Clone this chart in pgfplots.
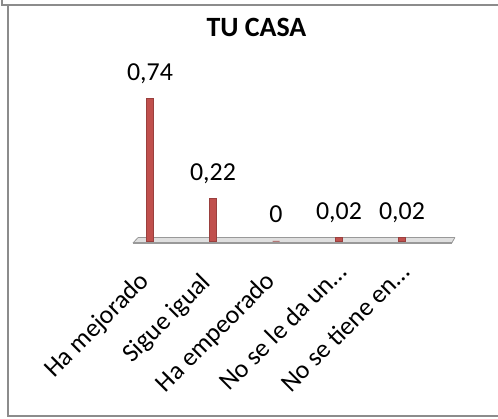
\documentclass[border=0pt]{standalone}
\usepackage{pgfplots}
\pgfplotsset{compat=1.18}
\usepackage{fontspec}
\setmainfont{Carlito}
\definecolor{barred}{HTML}{C0504D}
\definecolor{framegray}{HTML}{8C8C8C}
\begin{document}
\begin{tikzpicture}
\useasboundingbox (0bp,0bp) rectangle (498bp,419bp);
\draw[framegray, line width=2bp] (2bp,419bp) -- (2bp,413.5bp) -- (498bp,413.5bp);
\draw[framegray, line width=2bp] (8bp,413.5bp) -- (8bp,2.5bp) -- (498bp,2.5bp);
\node[font=\fontsize{28}{32}\selectfont\bfseries, anchor=base, inner sep=0pt] at (256.5bp,382.3bp) {TU CASA};
\begin{axis}[
 at={(118.5bp,178bp)}, anchor=south west, scale only axis, width=315bp, height=193bp,
 xmin=-0.5, xmax=4.5, ymin=0, ymax=1, clip=false,
 axis x line=bottom, axis y line=none, x axis line style={draw=none}, major tick length=0pt,
 ytick=\empty, xtick={0,1,2,3,4},
 xticklabels={Ha mejorado\rule{12bp}{0pt}, Sigue igual\rule{14bp}{0pt}, Ha empeorado\rule{12bp}{0pt}, No se le da un…, No se tiene en…},
 xticklabel style={xshift=-4bp, yshift=-20bp, rotate=45, anchor=north east, font=\fontsize{26}{30}\selectfont, inner sep=0pt},
 ybar, bar width=7bp,
 nodes near coords,
 nodes near coords style={font=\fontsize{26}{30}\selectfont, anchor=base, yshift=18bp, inner sep=0pt, text=black},
 /pgf/number format/.cd, use comma, fixed, precision=2, assume math mode=true,
]
\fill[gray!25] (axis cs:-0.27,-0.0104) -- (axis cs:-0.19,0.018) -- (axis cs:4.84,0.018) -- (axis cs:4.79,-0.0104) -- cycle;
\draw[gray!80, line width=1bp] (axis cs:-0.19,0.018) -- (axis cs:4.84,0.018);
\draw[gray!80, line width=1.4bp] (axis cs:-0.27,-0.0104) -- (axis cs:4.79,-0.0104);
\draw[gray!80, line width=0.8bp] (axis cs:-0.27,-0.0104) -- (axis cs:-0.19,0.018);
\draw[gray!80, line width=0.8bp] (axis cs:4.79,-0.0104) -- (axis cs:4.84,0.018);
\addplot[fill=barred, draw=barred!80!black, line width=0.6bp] coordinates {(0,0.74) (1,0.22) (2,0) (3,0.02) (4,0.02)};
\end{axis}
\end{tikzpicture}
\end{document}
